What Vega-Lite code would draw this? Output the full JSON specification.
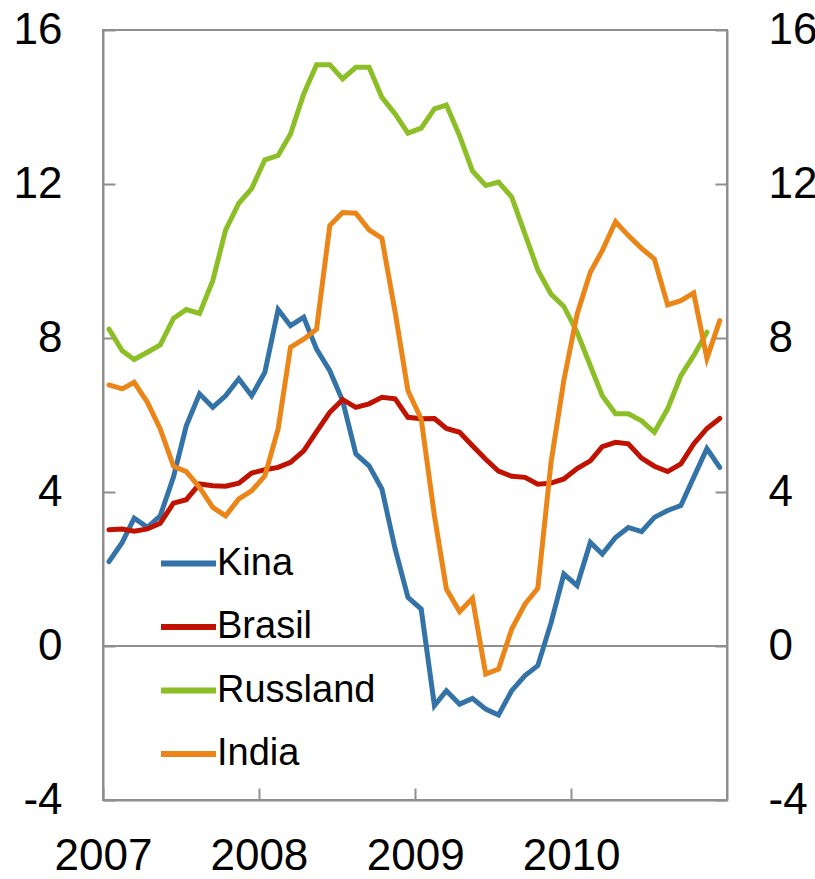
{
  "$schema": "https://vega.github.io/schema/vega-lite/v6.json",
  "width": 624,
  "height": 770,
  "autosize": "none",
  "padding": {"left": 103, "top": 30, "right": 88, "bottom": 79},
  "config": {
    "font": "Liberation Sans",
    "view": {"stroke": "#8f8f8f", "strokeWidth": 2},
    "axis": {
      "domainColor": "#8f8f8f",
      "domainWidth": 2,
      "tickColor": "#8f8f8f",
      "tickWidth": 2,
      "tickSize": -12,
      "labelColor": "#000000",
      "labelFont": "Liberation Sans",
      "labelFontSize": 44,
      "grid": false,
      "title": null,
      "labelFlush": false,
      "labelOverlap": false
    }
  },
  "layer": [
    {
      "data": {"values": [{}]},
      "mark": {"type": "rule", "color": "#8f8f8f", "strokeWidth": 2},
      "encoding": {
        "y": {
          "datum": 0,
          "type": "quantitative",
          "scale": {"domain": [-4, 16], "nice": false, "zero": false},
          "axis": {"orient": "right", "values": [-4, 0, 4, 8, 12, 16], "labelExpr": "datum.value + ''", "labelPadding": 53, "labelAlign": "left", "labelBaseline": "middle"}
        }
      }
    },
    {
      "data": {
        "values": [
          {"dato": "2007-01-15", "Kina": 2.19, "Brasil": 3.02, "Russland": 8.23, "India": 6.78},
          {"dato": "2007-02-15", "Kina": 2.69, "Brasil": 3.04, "Russland": 7.67, "India": 6.68},
          {"dato": "2007-03-15", "Kina": 3.32, "Brasil": 2.98, "Russland": 7.44, "India": 6.85},
          {"dato": "2007-04-15", "Kina": 3.08, "Brasil": 3.04, "Russland": 7.63, "India": 6.33},
          {"dato": "2007-05-15", "Kina": 3.38, "Brasil": 3.19, "Russland": 7.82, "India": 5.64},
          {"dato": "2007-06-15", "Kina": 4.39, "Brasil": 3.71, "Russland": 8.51, "India": 4.67},
          {"dato": "2007-07-15", "Kina": 5.72, "Brasil": 3.80, "Russland": 8.74, "India": 4.53},
          {"dato": "2007-08-15", "Kina": 6.55, "Brasil": 4.21, "Russland": 8.64, "India": 4.12},
          {"dato": "2007-09-15", "Kina": 6.20, "Brasil": 4.16, "Russland": 9.49, "India": 3.60},
          {"dato": "2007-10-15", "Kina": 6.50, "Brasil": 4.15, "Russland": 10.80, "India": 3.38},
          {"dato": "2007-11-15", "Kina": 6.94, "Brasil": 4.23, "Russland": 11.50, "India": 3.82},
          {"dato": "2007-12-15", "Kina": 6.50, "Brasil": 4.49, "Russland": 11.88, "India": 4.03},
          {"dato": "2008-01-15", "Kina": 7.11, "Brasil": 4.58, "Russland": 12.63, "India": 4.42},
          {"dato": "2008-02-15", "Kina": 8.74, "Brasil": 4.64, "Russland": 12.74, "India": 5.64},
          {"dato": "2008-03-15", "Kina": 8.32, "Brasil": 4.77, "Russland": 13.30, "India": 7.76},
          {"dato": "2008-04-15", "Kina": 8.54, "Brasil": 5.07, "Russland": 14.34, "India": 7.97},
          {"dato": "2008-05-15", "Kina": 7.71, "Brasil": 5.57, "Russland": 15.10, "India": 8.23},
          {"dato": "2008-06-15", "Kina": 7.15, "Brasil": 6.07, "Russland": 15.10, "India": 10.92},
          {"dato": "2008-07-15", "Kina": 6.37, "Brasil": 6.40, "Russland": 14.73, "India": 11.26},
          {"dato": "2008-08-15", "Kina": 4.99, "Brasil": 6.20, "Russland": 15.03, "India": 11.24},
          {"dato": "2008-09-15", "Kina": 4.68, "Brasil": 6.29, "Russland": 15.03, "India": 10.81},
          {"dato": "2008-10-15", "Kina": 4.08, "Brasil": 6.46, "Russland": 14.25, "India": 10.59},
          {"dato": "2008-11-15", "Kina": 2.52, "Brasil": 6.42, "Russland": 13.82, "India": 8.67},
          {"dato": "2008-12-15", "Kina": 1.26, "Brasil": 5.94, "Russland": 13.32, "India": 6.63},
          {"dato": "2009-01-15", "Kina": 0.96, "Brasil": 5.90, "Russland": 13.45, "India": 5.90},
          {"dato": "2009-02-15", "Kina": -1.55, "Brasil": 5.91, "Russland": 13.95, "India": 3.38},
          {"dato": "2009-03-15", "Kina": -1.16, "Brasil": 5.65, "Russland": 14.05, "India": 1.48},
          {"dato": "2009-04-15", "Kina": -1.51, "Brasil": 5.55, "Russland": 13.25, "India": 0.89},
          {"dato": "2009-05-15", "Kina": -1.36, "Brasil": 5.20, "Russland": 12.34, "India": 1.24},
          {"dato": "2009-06-15", "Kina": -1.64, "Brasil": 4.85, "Russland": 11.96, "India": -0.73},
          {"dato": "2009-07-15", "Kina": -1.79, "Brasil": 4.54, "Russland": 12.05, "India": -0.60},
          {"dato": "2009-08-15", "Kina": -1.16, "Brasil": 4.41, "Russland": 11.66, "India": 0.44},
          {"dato": "2009-09-15", "Kina": -0.77, "Brasil": 4.38, "Russland": 10.70, "India": 1.09},
          {"dato": "2009-10-15", "Kina": -0.51, "Brasil": 4.20, "Russland": 9.77, "India": 1.50},
          {"dato": "2009-11-15", "Kina": 0.60, "Brasil": 4.23, "Russland": 9.14, "India": 4.77},
          {"dato": "2009-12-15", "Kina": 1.87, "Brasil": 4.34, "Russland": 8.82, "India": 6.90},
          {"dato": "2010-01-15", "Kina": 1.57, "Brasil": 4.61, "Russland": 8.15, "India": 8.62},
          {"dato": "2010-02-15", "Kina": 2.69, "Brasil": 4.81, "Russland": 7.28, "India": 9.71},
          {"dato": "2010-03-15", "Kina": 2.39, "Brasil": 5.18, "Russland": 6.50, "India": 10.27},
          {"dato": "2010-04-15", "Kina": 2.82, "Brasil": 5.29, "Russland": 6.03, "India": 11.02},
          {"dato": "2010-05-15", "Kina": 3.08, "Brasil": 5.25, "Russland": 6.03, "India": 10.66},
          {"dato": "2010-06-15", "Kina": 2.97, "Brasil": 4.88, "Russland": 5.85, "India": 10.33},
          {"dato": "2010-07-15", "Kina": 3.34, "Brasil": 4.67, "Russland": 5.55, "India": 10.05},
          {"dato": "2010-08-15", "Kina": 3.52, "Brasil": 4.53, "Russland": 6.16, "India": 8.86},
          {"dato": "2010-09-15", "Kina": 3.65, "Brasil": 4.73, "Russland": 7.02, "India": 8.97},
          {"dato": "2010-10-15", "Kina": 4.38, "Brasil": 5.25, "Russland": 7.54, "India": 9.17},
          {"dato": "2010-11-15", "Kina": 5.13, "Brasil": 5.65, "Russland": 8.15, "India": 7.47},
          {"dato": "2010-12-15", "Kina": 4.64, "Brasil": 5.91, "Russland": null, "India": 8.45}
        ]
      },
      "transform": [{"fold": ["Kina", "Brasil", "Russland", "India"], "as": ["serie", "verdi"]}],
      "mark": {"type": "line", "strokeWidth": 5, "strokeJoin": "miter", "strokeCap": "round"},
      "encoding": {
        "x": {
          "field": "dato",
          "type": "temporal",
          "scale": {
            "type": "utc",
            "domain": [
              {"year": 2007, "month": 1, "date": 1, "utc": true},
              {"year": 2011, "month": 1, "date": 1, "utc": true}
            ]
          },
          "axis": {
            "values": [
              {"year": 2007, "month": 1, "date": 1, "utc": true},
              {"year": 2008, "month": 1, "date": 1, "utc": true},
              {"year": 2009, "month": 1, "date": 1, "utc": true},
              {"year": 2010, "month": 1, "date": 1, "utc": true}
            ],
            "format": "%Y",
            "labelPadding": 46,
            "labelAlign": "center",
            "labelBaseline": "top"
          }
        },
        "y": {
          "field": "verdi",
          "type": "quantitative",
          "scale": {"domain": [-4, 16], "nice": false, "zero": false},
          "axis": {"orient": "left", "values": [-4, 0, 4, 8, 12, 16], "labelExpr": "datum.value + ''", "labelPadding": 53, "labelAlign": "right", "labelBaseline": "middle"}
        },
        "color": {
          "field": "serie",
          "type": "nominal",
          "sort": ["Kina", "Brasil", "Russland", "India"],
          "scale": {
            "domain": ["Kina", "Brasil", "Russland", "India"],
            "range": ["#3373A8", "#C01200", "#8CBE26", "#EC8518"]
          },
          "legend": {
            "orient": "none",
            "legendX": 55,
            "legendY": 503,
            "title": null,
            "symbolType": "stroke",
            "symbolSize": 3025,
            "symbolStrokeWidth": 6,
            "labelFontSize": 38,
            "labelFont": "Liberation Sans",
            "labelColor": "#000000",
            "labelOffset": -2,
            "rowPadding": 13.5,
            "padding": 0
          }
        }
      }
    }
  ],
  "resolve": {"scale": {"y": "independent"}}
}
